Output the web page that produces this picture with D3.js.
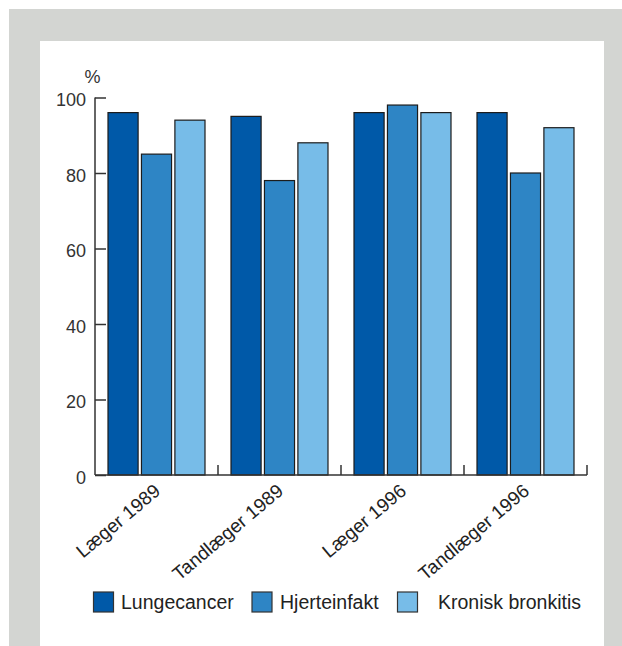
<!DOCTYPE html>
<html><head><meta charset="utf-8">
<script src="https://cdn.jsdelivr.net/npm/d3@7"></script>
<style>body{margin:0;background:#fff;}svg{display:block;font-family:"Liberation Sans",Arial,sans-serif;}</style>
</head><body><svg id="c" width="622" height="646"></svg>
<script>
const groups = ["Læger 1989", "Tandlæger 1989", "Læger 1996", "Tandlæger 1996"];
const series = ["Lungecancer", "Hjerteinfakt", "Kronisk bronkitis"];
const lungecancer = [96, 95, 96, 96];
const hjerteinfakt = [85, 78, 98, 80];
const kroniskBronkitis = [94, 88, 96, 92];
const yTicks = [0, 20, 40, 60, 80, 100];
const colors = ["#0059a8", "#2e85c5", "#77bce8"];

const values = [lungecancer, hjerteinfakt, kroniskBronkitis];
const svg = d3.select("#c");
svg.append("rect").attr("x", 9).attr("y", 9).attr("width", 613).attr("height", 637).attr("fill", "#d3d5d2");
svg.append("rect").attr("x", 40).attr("y", 41).attr("width", 564).attr("height", 605).attr("fill", "#fff");

const x0 = d3.scaleBand().domain(groups).range([95, 587]);
const x1 = d3.scaleBand().domain(series).range([13, 110]).paddingInner(0.1);
const y = d3.scaleLinear().domain([0, 100]).range([475, 97.5]);

const g = svg.append("g");
groups.forEach((grp, gi) => {
  series.forEach((s, si) => {
    const v = values[si][gi];
    g.append("rect")
      .attr("x", x0(grp) + x1(s))
      .attr("y", y(v))
      .attr("width", x1.bandwidth())
      .attr("height", y(0) - y(v))
      .attr("fill", colors[si])
      .attr("stroke", "#1c1c1c").attr("stroke-width", 1.2);
  });
});

// y axis
const yAxis = d3.axisRight(y).tickValues(yTicks).tickSize(11).tickFormat("");
const ya = svg.append("g").attr("transform", "translate(95,0)").call(yAxis);
ya.select(".domain").remove();
ya.selectAll("line").attr("stroke", "#333").attr("stroke-width", 1.5);
svg.append("line").attr("x1", 95).attr("x2", 95).attr("y1", y(100)).attr("y2", y(0)).attr("stroke", "#333").attr("stroke-width", 1.5);
svg.selectAll(".ylab").data(yTicks).enter().append("text")
  .attr("x", 86).attr("y", d => y(d) + 8.5)
  .attr("text-anchor", "end").attr("font-size", 18).attr("fill", "#333").text(d => d);
svg.append("text").attr("x", 92.5).attr("y", 83).attr("text-anchor", "middle").attr("font-size", 18).attr("fill", "#333").text("%");

// x axis
svg.append("line").attr("x1", 95).attr("x2", 587).attr("y1", y(0)).attr("y2", y(0)).attr("stroke", "#333").attr("stroke-width", 1.5);
const bounds = groups.map(d => x0(d) + x0.bandwidth());
svg.selectAll(".xt").data(bounds).enter().append("line")
  .attr("x1", d => d).attr("x2", d => d).attr("y1", y(0)).attr("y2", y(0) - 10)
  .attr("stroke", "#333").attr("stroke-width", 1.5);
svg.selectAll(".xlab").data(groups).enter().append("text")
  .attr("transform", d => `translate(${x0(d) + x0.bandwidth() / 2 + 5},${y(0) + 18}) rotate(-40)`)
  .attr("text-anchor", "end").attr("font-size", 19).attr("fill", "#222").text(d => d);

// legend
const legX = [93.5, 252, 397.5];
const legTX = [121, 280, 438];
series.forEach((s, i) => {
  svg.append("rect").attr("x", legX[i]).attr("y", 592).attr("width", 20).attr("height", 20)
    .attr("fill", colors[i]).attr("stroke", "#333").attr("stroke-width", 1.2);
  svg.append("text").attr("x", legTX[i]).attr("y", 609).attr("font-size", 19.5).attr("fill", "#222").text(s);
});
</script></body></html>
